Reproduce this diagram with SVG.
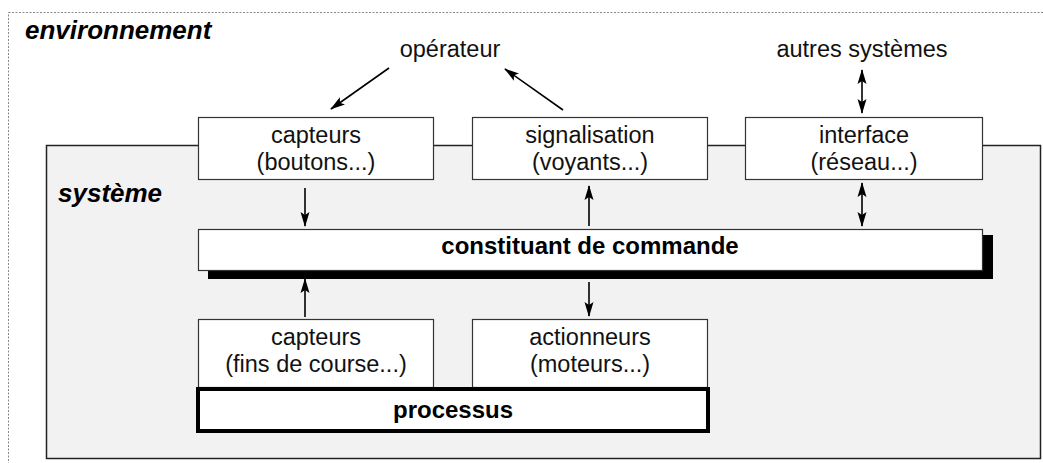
<svg xmlns="http://www.w3.org/2000/svg" width="1043" height="463" viewBox="0 0 1043 463">
<style>
.box{fill:#fff;stroke:#333;stroke-width:1.2}
.t{font-family:"Liberation Sans",Arial,sans-serif;font-size:23.5px;fill:#111;text-anchor:middle}
.b{font-family:"Liberation Sans",Arial,sans-serif;font-size:24px;font-weight:bold;fill:#000;text-anchor:middle}
.h{font-family:"Liberation Sans",Arial,sans-serif;font-size:26px;font-weight:bold;font-style:italic;fill:#000}
.c{stroke:#000;stroke-width:1.6;fill:none}
</style>
<defs>
<marker id="ah" viewBox="0 0 15 10" refX="14" refY="5" markerWidth="15" markerHeight="10" markerUnits="userSpaceOnUse" orient="auto-start-reverse">
<path d="M0,0.5 L15,5 L0,9.5 L3,5 Z" fill="#000"/>
</marker>
</defs>
<g id="environnement">
<rect x="8.5" y="12.5" width="1040" height="460" fill="#fff" stroke="#888" stroke-width="1" stroke-dasharray="2,1.5"/>
<text class="h" x="25" y="39">environnement</text>
</g>
<g id="systeme">
<rect x="46.5" y="145.5" width="994" height="313" fill="#f2f2f2" stroke="#222" stroke-width="1.5"/>
<text class="h" x="58" y="202">système</text>
</g>
<g id="operateur"><text class="t" x="450" y="57">opérateur</text></g>
<g id="autres"><text class="t" x="862" y="57">autres systèmes</text></g>
<g id="capteurs1">
<rect class="box" x="198.5" y="117.5" width="235" height="62"/>
<text class="t" x="316" y="143">capteurs</text>
<text class="t" x="316" y="170">(boutons...)</text>
</g>
<g id="signalisation">
<rect class="box" x="472.5" y="117.5" width="235" height="62"/>
<text class="t" x="590" y="143">signalisation</text>
<text class="t" x="590" y="170">(voyants...)</text>
</g>
<g id="interface">
<rect class="box" x="745.5" y="117.5" width="237" height="62"/>
<text class="t" x="864" y="143">interface</text>
<text class="t" x="864" y="170">(réseau...)</text>
</g>
<g id="commande">
<rect x="208" y="235" width="785" height="44" fill="#000"/>
<rect class="box" x="198.5" y="229.5" width="784" height="41"/>
<text class="b" x="590" y="254">constituant de commande</text>
</g>
<g id="capteurs2">
<rect class="box" x="198.5" y="319.5" width="235" height="68"/>
<text class="t" x="316" y="345">capteurs</text>
<text class="t" x="316" y="372">(fins de course...)</text>
</g>
<g id="actionneurs">
<rect class="box" x="472.5" y="319.5" width="235" height="68"/>
<text class="t" x="590" y="345">actionneurs</text>
<text class="t" x="590" y="372">(moteurs...)</text>
</g>
<g id="processus">
<rect x="198" y="389" width="510" height="42" fill="#fff" stroke="#000" stroke-width="4"/>
<text class="b" x="453" y="418">processus</text>
</g>
<g id="connecteurs">
<line class="c" x1="389" y1="68" x2="331" y2="109" marker-end="url(#ah)"/>
<line class="c" x1="563" y1="110" x2="505" y2="69" marker-end="url(#ah)"/>
<line class="c" x1="862" y1="70" x2="862" y2="113" marker-start="url(#ah)" marker-end="url(#ah)"/>
<line class="c" x1="305" y1="188" x2="305" y2="226" marker-end="url(#ah)"/>
<line class="c" x1="589" y1="226" x2="589" y2="186" marker-end="url(#ah)"/>
<line class="c" x1="862" y1="183" x2="862" y2="226" marker-start="url(#ah)" marker-end="url(#ah)"/>
<line class="c" x1="305" y1="317" x2="305" y2="279" marker-end="url(#ah)"/>
<line class="c" x1="589" y1="282" x2="589" y2="316" marker-end="url(#ah)"/>
</g>
</svg>
